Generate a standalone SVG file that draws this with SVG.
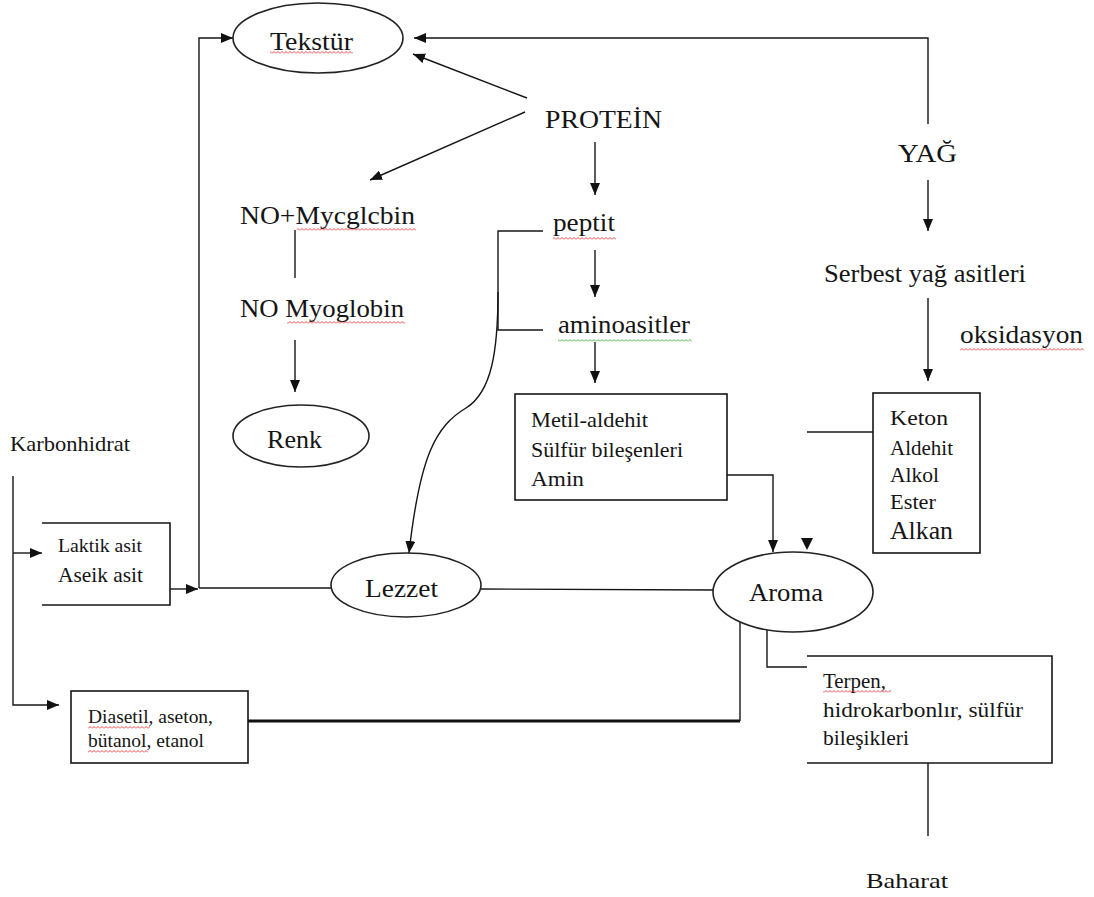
<svg xmlns="http://www.w3.org/2000/svg" width="1094" height="897" viewBox="0 0 1094 897">
<style>
text{font-family:'Liberation Serif','DejaVu Serif',serif;fill:#151515}
.ln{fill:none;stroke:#161616;stroke-width:1.4}
.thick{fill:none;stroke:#111;stroke-width:3.2}
.ov{fill:#fff;stroke:#222;stroke-width:1.6}
.bx{fill:#fff;stroke:#161616;stroke-width:1.6}
.big{font-size:26px}
.mid{font-size:21px}
.sm{font-size:18px}
</style>
<defs>
<marker id="ah" viewBox="0 0 12 10" refX="12" refY="5" markerWidth="12" markerHeight="10" orient="auto" markerUnits="userSpaceOnUse"><path d="M0,0 L12,5 L0,10 z" fill="#111"/></marker>
<pattern id="wr" width="4" height="3" patternUnits="userSpaceOnUse"><path d="M0,2.5 L2,0.5 L4,2.5" fill="none" stroke="#e33" stroke-width="0.9"/></pattern>
<pattern id="wg" width="4" height="3" patternUnits="userSpaceOnUse"><path d="M0,2.5 L2,0.5 L4,2.5" fill="none" stroke="#3a3" stroke-width="0.9"/></pattern>
</defs>

<g id="connectors">
<path class="ln" d="M928,124 L928,38 L414,38" marker-end="url(#ah)"/>
<path class="ln" d="M527,98 L413,54" marker-end="url(#ah)"/>
<path class="ln" d="M525,112 L370,180" marker-end="url(#ah)"/>
<path class="ln" d="M595,142 L595,195" marker-end="url(#ah)"/>
<path class="ln" d="M595,250 L595,297" marker-end="url(#ah)"/>
<path class="ln" d="M595,342 L595,383" marker-end="url(#ah)"/>
<path class="ln" d="M543,231 L498,231 L498,330 L543,330"/>
<path class="ln" d="M498,292 C498,350 492,392 466,408 C436,426 420,455 409,553" marker-end="url(#ah)"/>
<path class="ln" d="M295,230 L295,278"/>
<path class="ln" d="M295,340 L295,392" marker-end="url(#ah)"/>
<path class="ln" d="M928,180 L928,231" marker-end="url(#ah)"/>
<path class="ln" d="M928,298 L928,381" marker-end="url(#ah)"/>
<path class="ln" d="M807,432 L873,432"/>
<path d="M801,538 L813,538 L807,550 z" fill="#111"/>
<path class="ln" d="M727,475 L773,475 L773,552" marker-end="url(#ah)"/>
<path class="ln" d="M13,476 L13,705 L59,705" marker-end="url(#ah)"/>
<path class="ln" d="M13,553 L42,553" marker-end="url(#ah)"/>
<path class="ln" d="M170,589 L198,589" marker-end="url(#ah)"/>
<path class="ln" d="M199,588 L199,38 L233,38" marker-end="url(#ah)"/>
<path class="ln" d="M199,588 L331,588"/>
<path class="ln" d="M481,589 L713,590"/>
<path class="thick" d="M248,721 L740,721"/>
<path class="ln" d="M740,721 L740,622"/>
<path class="ln" d="M767,630 L767,667 L807,667"/>
<path class="ln" d="M928,763 L928,836"/>
</g>

<g id="tekstur">
<ellipse class="ov" cx="318" cy="38" rx="85" ry="35"/>
<text class="big" x="270" y="50" textLength="83" lengthAdjust="spacingAndGlyphs">Tekstür</text>
<rect x="270" y="51" width="83" height="3" fill="url(#wr)"/>
</g>

<g id="protein">
<text class="big" x="545" y="128" textLength="117" lengthAdjust="spacingAndGlyphs">PROTEİN</text>
</g>

<g id="yag">
<text class="big" x="898" y="162" textLength="59" lengthAdjust="spacingAndGlyphs">YAĞ</text>
</g>

<g id="serbest">
<text class="big" x="824" y="282" textLength="202" lengthAdjust="spacingAndGlyphs">Serbest yağ asitleri</text>
</g>

<g id="oksidasyon">
<text class="big" x="960" y="343" textLength="123" lengthAdjust="spacingAndGlyphs">oksidasyon</text>
<rect x="960" y="348" width="124" height="3" fill="url(#wr)"/>
</g>

<g id="no-myoglobin-1">
<text class="big" x="240" y="224" textLength="175" lengthAdjust="spacingAndGlyphs">NO+Mycglcbin</text>
<rect x="297" y="228" width="119" height="3" fill="url(#wr)"/>
</g>

<g id="no-myoglobin-2">
<text class="big" x="240" y="317" textLength="164" lengthAdjust="spacingAndGlyphs">NO Myoglobin</text>
<rect x="287" y="321" width="118" height="3" fill="url(#wr)"/>
</g>

<g id="renk">
<ellipse class="ov" cx="301" cy="436" rx="68" ry="31"/>
<text class="big" x="267" y="448" textLength="55" lengthAdjust="spacingAndGlyphs">Renk</text>
</g>

<g id="peptit">
<text class="big" x="553" y="231" textLength="62" lengthAdjust="spacingAndGlyphs">peptit</text>
<rect x="553" y="237" width="63" height="3" fill="url(#wr)"/>
</g>

<g id="aminoasitler">
<text class="big" x="558" y="333" textLength="132" lengthAdjust="spacingAndGlyphs">aminoasitler</text>
<rect x="558" y="339" width="134" height="3" fill="url(#wg)"/>
</g>

<g id="metil-box">
<rect class="bx" x="515" y="394" width="212" height="106"/>
<text class="mid" x="531" y="427" textLength="117" lengthAdjust="spacingAndGlyphs">Metil-aldehit</text>
<text class="mid" x="531" y="457" textLength="152" lengthAdjust="spacingAndGlyphs">Sülfür bileşenleri</text>
<text class="mid" x="531" y="486" textLength="53" lengthAdjust="spacingAndGlyphs">Amin</text>
</g>

<g id="keton-box">
<rect class="bx" x="873" y="393" width="107" height="160"/>
<text class="mid" x="890" y="425" textLength="58" lengthAdjust="spacingAndGlyphs">Keton</text>
<text class="mid" x="890" y="455" textLength="63" lengthAdjust="spacingAndGlyphs">Aldehit</text>
<text class="mid" x="890" y="482" textLength="49" lengthAdjust="spacingAndGlyphs">Alkol</text>
<text class="mid" x="890" y="509" textLength="46" lengthAdjust="spacingAndGlyphs">Ester</text>
<text class="big" x="890" y="539" textLength="63" lengthAdjust="spacingAndGlyphs">Alkan</text>
</g>

<g id="karbonhidrat">
<text class="mid" x="10" y="451" textLength="120" lengthAdjust="spacingAndGlyphs">Karbonhidrat</text>
</g>

<g id="laktik-box">
<path class="bx" d="M42,523 L170,523 L170,605 L42,605" fill="none"/>
<text class="sm" x="58" y="552" textLength="84" lengthAdjust="spacingAndGlyphs">Laktik asit</text>
<text class="mid" x="58" y="582" textLength="85" lengthAdjust="spacingAndGlyphs">Aseik asit</text>
</g>

<g id="lezzet">
<ellipse class="ov" cx="406" cy="585" rx="75" ry="32"/>
<text class="big" x="365" y="597" textLength="73" lengthAdjust="spacingAndGlyphs">Lezzet</text>
</g>

<g id="aroma">
<ellipse class="ov" cx="793" cy="592" rx="80" ry="40"/>
<text class="big" x="749" y="601" textLength="74" lengthAdjust="spacingAndGlyphs">Aroma</text>
</g>

<g id="diasetil-box">
<rect class="bx" x="71" y="691" width="177" height="72"/>
<text class="sm" x="88" y="723" textLength="125" lengthAdjust="spacingAndGlyphs">Diasetil, aseton,</text>
<text class="sm" x="88" y="747" textLength="116" lengthAdjust="spacingAndGlyphs">bütanol, etanol</text>
<rect x="88" y="726" width="62" height="3" fill="url(#wr)"/>
<rect x="88" y="750" width="60" height="3" fill="url(#wr)"/>
</g>

<g id="terpen-box">
<path class="bx" d="M807,656 L1052,656 L1052,763 L807,763" fill="none"/>
<text class="mid" x="823" y="688" textLength="63" lengthAdjust="spacingAndGlyphs">Terpen,</text>
<text class="mid" x="823" y="717" textLength="200" lengthAdjust="spacingAndGlyphs">hidrokarbonlır, sülfür</text>
<text class="mid" x="823" y="745" textLength="86" lengthAdjust="spacingAndGlyphs">bileşikleri</text>
<rect x="823" y="690" width="68" height="3" fill="url(#wr)"/>
</g>

<g id="baharat">
<text class="mid" x="866" y="888" textLength="82" lengthAdjust="spacingAndGlyphs">Baharat</text>
</g>
</svg>
